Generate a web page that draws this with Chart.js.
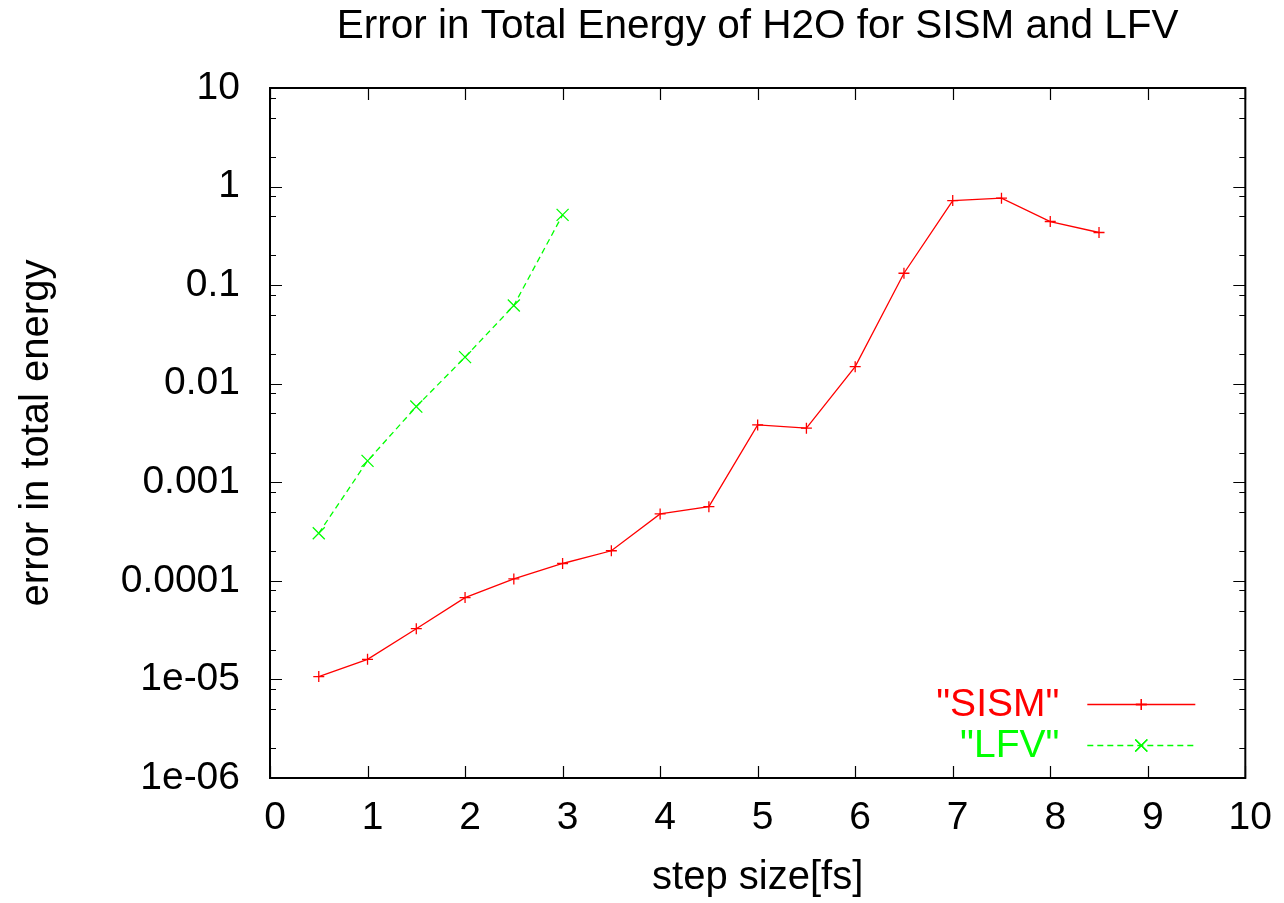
<!DOCTYPE html>
<html>
<head>
<meta charset="utf-8">
<script src="https://cdn.jsdelivr.net/npm/chart.js@4/dist/chart.umd.min.js"></script>
<style>
  html, body { margin: 0; padding: 0; background: #fff; }
  #wrap { width: 1284px; height: 903px; }
</style>
</head>
<body>
<div id="wrap"><canvas id="chart" width="1284" height="903"></canvas></div>
<script>
// step sizes [fs] and errors
const stepSISM = [0.5, 1, 1.5, 2, 2.5, 3, 3.5, 4, 4.5, 5, 5.5, 6, 6.5, 7, 7.5, 8, 8.5];
const errSISM = [1.07e-5, 1.60e-5, 3.27e-5, 6.76e-5, 1.045e-4, 1.50e-4, 2.02e-4, 4.77e-4, 5.66e-4,
                 3.82e-3, 3.54e-3, 0.0149, 0.132, 0.721, 0.763, 0.442, 0.342];
const stepLFV = [0.5, 1, 1.5, 2, 2.5, 3];
const errLFV = [3.04e-4, 1.65e-3, 5.86e-3, 0.0186, 0.0621, 0.516];

const yTickValues = [1e-6, 1e-5, 1e-4, 1e-3, 1e-2, 1e-1, 1, 10];
const yTickLabels = ['1e-06', '1e-05', '0.0001', '0.001', '0.01', '0.1', '1', '10'];
const yMinorMult = [2, 5, 8];
const xTickValues = [0, 1, 2, 3, 4, 5, 6, 7, 8, 9, 10];

const FONT = 'Liberation Sans, Arial, sans-serif';
Chart.defaults.font.family = FONT;
Chart.defaults.font.size = 39;
Chart.defaults.color = '#000';

// gnuplot style border + inward mirrored tics
const frame = {
  id: 'frame',
  beforeDatasetsDraw(c) {
    const {ctx, chartArea: a} = c;
    const xs = c.scales.x, ys = c.scales.y;
    ctx.save();
    ctx.strokeStyle = '#000';
    ctx.lineWidth = 1.2;
    ctx.beginPath();
    xTickValues.forEach(v => {
      const px = Math.round(xs.getPixelForValue(v)) + 0.5;
      ctx.moveTo(px, a.bottom); ctx.lineTo(px, a.bottom - 12);
      ctx.moveTo(px, a.top); ctx.lineTo(px, a.top + 12);
    });
    yTickValues.forEach((v, i) => {
      const py = Math.round(ys.getPixelForValue(v)) + 0.5;
      ctx.moveTo(a.left, py); ctx.lineTo(a.left + 12, py);
      ctx.moveTo(a.right, py); ctx.lineTo(a.right - 12, py);
      if (i < yTickValues.length - 1) {
        yMinorMult.forEach(m => {
          const my = Math.round(ys.getPixelForValue(v * m)) + 0.5;
          ctx.moveTo(a.left, my); ctx.lineTo(a.left + 6, my);
          ctx.moveTo(a.right, my); ctx.lineTo(a.right - 6, my);
        });
      }
    });
    ctx.stroke();
    ctx.lineWidth = 2;
    ctx.strokeRect(a.left, a.top, a.right - a.left, a.bottom - a.top);
    ctx.restore();
  }
};

// key in the lower right corner, text left of the sample
const key = {
  id: 'key',
  afterDatasetsDraw(c) {
    const {ctx, chartArea: a} = c;
    ctx.save();
    ctx.font = '39px ' + FONT;
    ctx.textAlign = 'right';
    ctx.textBaseline = 'middle';
    c.data.datasets.forEach((ds, i) => {
      const y = a.bottom - 74 + i * 41;
      const x0 = a.right - 158, x1 = a.right - 50, xm = a.right - 104;
      ctx.fillStyle = ds.borderColor;
      ctx.fillText('"' + ds.label + '"', a.right - 186, y + 1);
      ctx.strokeStyle = ds.borderColor;
      ctx.lineWidth = ds.borderWidth;
      ctx.setLineDash(ds.borderDash || []);
      ctx.beginPath();
      ctx.moveTo(x0, y + 0.5); ctx.lineTo(x1, y + 0.5);
      ctx.stroke();
      ctx.setLineDash([]);
      Chart.helpers.drawPoint(ctx, {pointStyle: ds.pointStyle, radius: ds.pointRadius, rotation: 0, borderWidth: ds.borderWidth}, xm, y + 0.5);
      ctx.stroke();
    });
    ctx.restore();
  }
};

new Chart(document.getElementById('chart'), {
  type: 'line',
  data: {
    datasets: [{
      label: 'SISM',
      data: stepSISM.map((s, i) => ({x: s, y: errSISM[i]})),
      borderColor: '#ff0000',
      backgroundColor: '#ff0000',
      borderWidth: 1.3,
      pointStyle: 'cross',
      pointRadius: 5.5,
      pointBorderWidth: 1.3,
      tension: 0,
      fill: false
    }, {
      label: 'LFV',
      data: stepLFV.map((s, i) => ({x: s, y: errLFV[i]})),
      borderColor: '#00ff00',
      backgroundColor: '#00ff00',
      borderWidth: 1.3,
      borderDash: [6, 4],
      pointStyle: 'crossRot',
      pointRadius: 8.5,
      pointBorderWidth: 1.3,
      tension: 0,
      fill: false
    }]
  },
  options: {
    responsive: false,
    devicePixelRatio: 1,
    animation: false,
    layout: {padding: {left: 0, right: 32, top: 0, bottom: 0}},
    plugins: {
      legend: {display: false},
      tooltip: {enabled: false},
      title: {
        display: true,
        text: 'Error in Total Energy of H2O for SISM and LFV',
        fullSize: false,
        font: {size: 40.5, weight: 'normal'},
        color: '#000',
        padding: {top: 3, bottom: 36.4}
      }
    },
    scales: {
      x: {
        type: 'linear',
        min: 0,
        max: 10,
        grid: {display: false, drawTicks: false},
        border: {display: false},
        afterBuildTicks: s => { s.ticks = xTickValues.map(v => ({value: v})); },
        afterFit: s => { s.height = 125; },
        ticks: {padding: 17, labelOffset: 5, maxRotation: 0, autoSkip: false, color: '#000'},
        title: {display: true, text: 'step size[fs]', color: '#000', font: {size: 40}, padding: {top: 0, bottom: 1}}
      },
      y: {
        type: 'logarithmic',
        min: 1e-6,
        max: 10,
        grid: {display: false, drawTicks: false},
        border: {display: false},
        afterBuildTicks: s => { s.ticks = yTickValues.map(v => ({value: v, major: true})); },
        afterFit: s => { s.width = 270; },
        ticks: {
          padding: 30,
          autoSkip: false,
          color: '#000',
          callback: v => yTickLabels[yTickValues.indexOf(v)] ?? ''
        },
        title: {display: true, text: 'error in total energy', color: '#000', font: {size: 40}, padding: {top: 13, bottom: 0}}
      }
    }
  },
  plugins: [frame, key]
});
</script>
</body>
</html>
